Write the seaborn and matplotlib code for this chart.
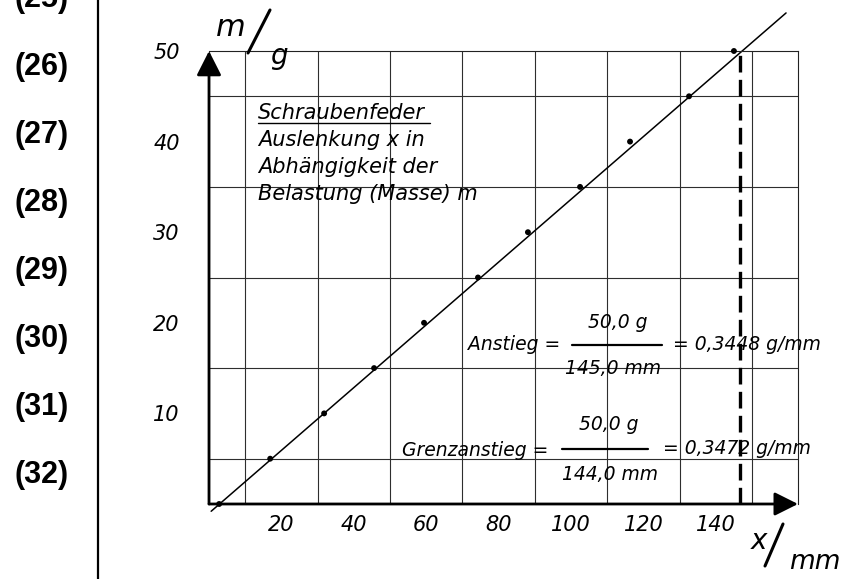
import matplotlib
matplotlib.use("Agg")
import pandas as pd
import matplotlib.pyplot as plt
import seaborn as sns
from matplotlib.lines import Line2D

# -----------------------------
# DATA
# -----------------------------
auslenkung_mm = [2.8, 16.9, 31.8, 45.6, 59.4, 74.3, 88.1, 102.5, 116.3, 132.6, 145.0]
masse_g = [0, 5, 10, 15, 20, 25, 30, 35, 40, 45, 50]

fit_x = [0.6, 159.4]        # Ausgleichsgerade
fit_m = [-0.8, 54.2]
grenze_x = 146.8            # gestrichelte Linie

x_ticks = [20, 40, 60, 80, 100, 120, 140]
y_ticks = [10, 20, 30, 40, 50]
x_grid = list(range(0, 151, 10))
y_grid = list(range(0, 51, 5))

zeilen = ["(25)", "(26)", "(27)", "(28)", "(29)", "(30)", "(31)", "(32)"]

titel = ["Schraubenfeder", "Auslenkung x in", "Abhängigkeit der", "Belastung (Masse) m"]

df = pd.DataFrame({"x": auslenkung_mm, "m": masse_g})
fit = pd.DataFrame({"x": fit_x, "m": fit_m})

# -----------------------------
# FIGURE
# -----------------------------
sns.set_theme(style="white")
plt.rcParams["font.family"] = ["DejaVu Sans"]
plt.rcParams["text.color"] = "black"
plt.rcParams["xtick.color"] = "black"
plt.rcParams["ytick.color"] = "black"

W, H = 845, 579
fig = plt.figure(figsize=(W / 100, H / 100), dpi=100)
fig.patch.set_facecolor("white")


def fx(px):
    return px / W


def fy(py):
    return 1 - py / H


ax = fig.add_axes([fx(209), fy(504), (798 - 209) / W, (504 - 51) / H])
ax.set_facecolor("white")
ax.set_xlim(0, 162.7)
ax.set_ylim(0, 50)

# grid
ax.set_xticks(x_grid, minor=True)
ax.set_yticks(y_grid, minor=True)
ax.grid(which="minor", color="#2e2e2e", lw=0.8)
ax.grid(which="major", visible=False)
ax.set_xticks(x_ticks)
ax.set_yticks(y_ticks)
ax.set_xticklabels([str(t) for t in x_ticks], fontsize=15, style="italic", color="black")
ax.set_yticklabels([str(t) for t in y_ticks], fontsize=15, style="italic", color="black")
ax.tick_params(which="both", length=0)
ax.tick_params(axis="x", pad=8)
ax.tick_params(axis="y", pad=21)

for s in ["top", "right"]:
    ax.spines[s].set_color("#222222")
    ax.spines[s].set_linewidth(0.8)
for s in ["left", "bottom"]:
    ax.spines[s].set_visible(False)

# axes with arrow heads
ax.annotate("", xy=(0, 50), xytext=(0, 0), annotation_clip=False,
            arrowprops=dict(arrowstyle="-|>,head_length=0.75,head_width=0.38",
                            mutation_scale=20, lw=2, color="black",
                            shrinkA=0, shrinkB=0))
ax.annotate("", xy=(162.7, 0), xytext=(0, 0), annotation_clip=False,
            arrowprops=dict(arrowstyle="-|>,head_length=0.72,head_width=0.36",
                            mutation_scale=20, lw=2, color="black",
                            shrinkA=0, shrinkB=0))

# fit line, points, dashed limit
sns.lineplot(data=fit, x="x", y="m", color="black", lw=1.1, ax=ax, clip_on=False)
sns.scatterplot(data=df, x="x", y="m", color="black", s=18, edgecolor="none",
                ax=ax, clip_on=False, zorder=5)
ax.plot([grenze_x, grenze_x], [0, 50], color="black", lw=2.4, ls=(0, (5, 2.2)))
ax.set_xlabel("")
ax.set_ylabel("")

# axis titles  m / g  and  x / mm
fig.text(fx(231), fy(27), "m", fontsize=22, style="italic", ha="center", va="center")
fig.add_artist(Line2D([fx(248), fx(270)], [fy(53), fy(10)], color="black", lw=2.2))
fig.text(fx(279), fy(56), "g", fontsize=20, style="italic", ha="center", va="center")

fig.text(fx(759), fy(541), "x", fontsize=20, style="italic", ha="center", va="center")
fig.add_artist(Line2D([fx(765), fx(783)], [fy(566), fy(524)], color="black", lw=2.2))
fig.text(fx(815), fy(562), "mm", fontsize=19, style="italic", ha="center", va="center")

# description block
for i, t in enumerate(titel):
    fig.text(fx(258), fy(113 + 27 * i), t, fontsize=15, style="italic",
             ha="left", va="center")
fig.add_artist(Line2D([fx(258), fx(430)], [fy(123), fy(123)], color="black", lw=1))

# slope formulas
fs = 13.5
fig.text(fx(468), fy(345), "Anstieg =", fontsize=fs, style="italic", ha="left", va="center")
fig.add_artist(Line2D([fx(572), fx(662)], [fy(345), fy(345)], color="black", lw=1.6))
fig.text(fx(618), fy(322), "50,0 g", fontsize=fs, style="italic", ha="center", va="center")
fig.text(fx(613), fy(369), "145,0 mm", fontsize=fs, style="italic", ha="center", va="center")
fig.text(fx(673), fy(345), "= 0,3448 g/mm", fontsize=fs, style="italic", ha="left", va="center")

fig.text(fx(402), fy(450), "Grenzanstieg =", fontsize=fs, style="italic", ha="left", va="center")
fig.add_artist(Line2D([fx(562), fx(648)], [fy(449), fy(449)], color="black", lw=1.6))
fig.text(fx(609), fy(425), "50,0 g", fontsize=fs, style="italic", ha="center", va="center")
fig.text(fx(610), fy(475), "144,0 mm", fontsize=fs, style="italic", ha="center", va="center")
fig.text(fx(663), fy(449), "= 0,3472 g/mm", fontsize=fs, style="italic", ha="left", va="center")

# left margin: line numbers and rule
fig.add_artist(Line2D([fx(98), fx(98)], [0, 1], color="black", lw=1.6))
for i, z in enumerate(zeilen):
    fig.text(fx(42), fy(-1 + 68 * i), z, fontsize=22, fontweight="bold",
             family="Liberation Sans", ha="center", va="center")

fig.savefig("out.png", dpi=100, facecolor="white")
